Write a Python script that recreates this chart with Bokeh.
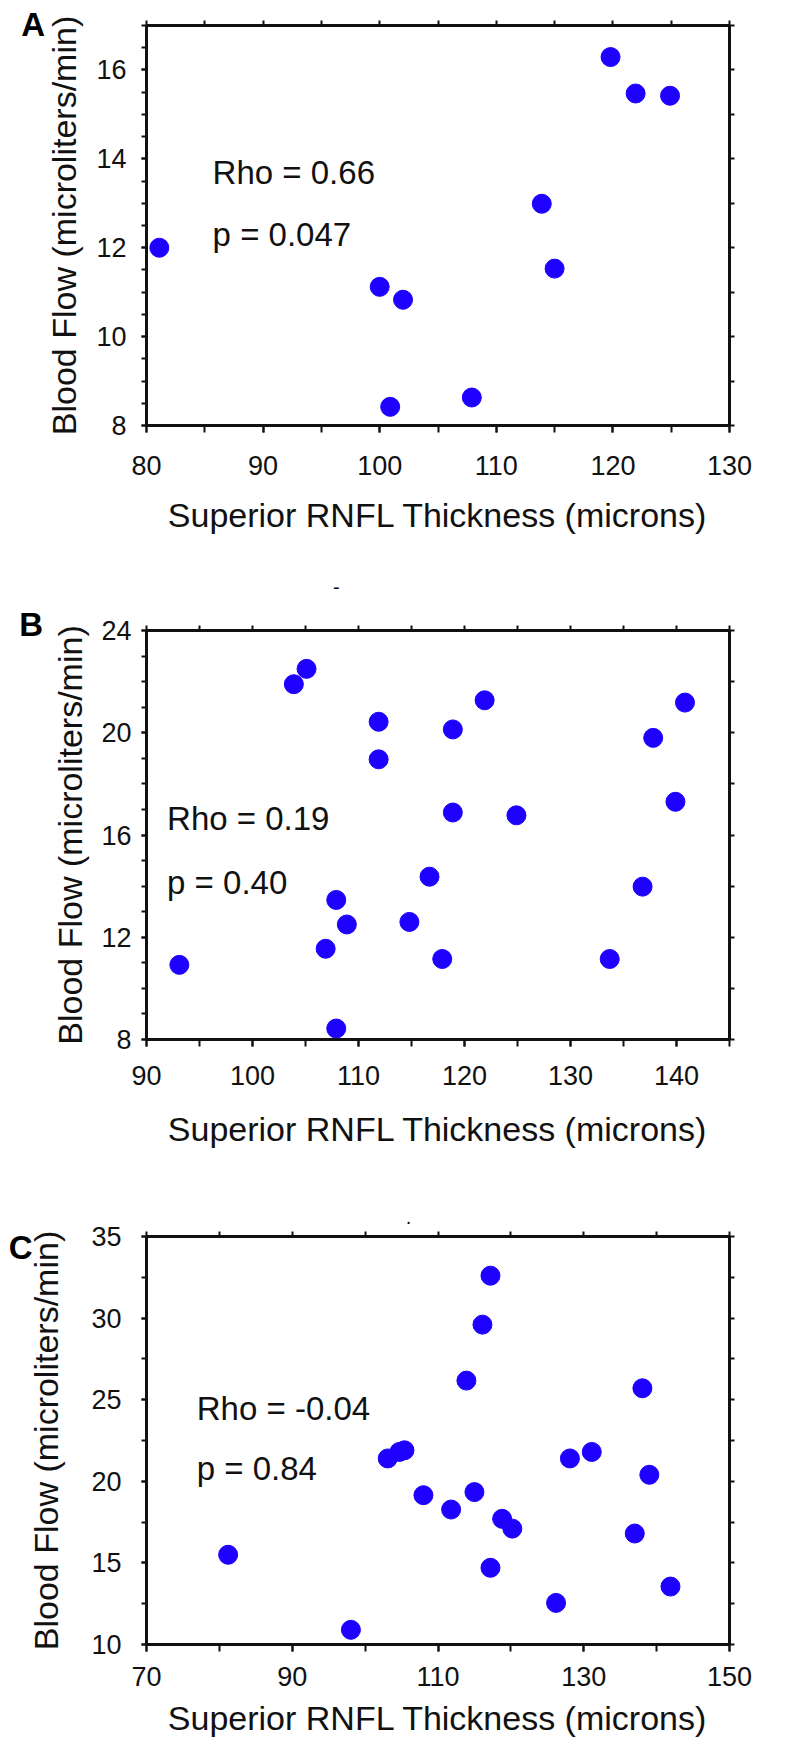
from bokeh.plotting import figure
from bokeh.layouts import column
from bokeh.models import LinearAxis, FixedTicker, Label, Range1d, ColumnDataSource
from bokeh.embed import file_html
from bokeh.resources import INLINE

FONT = "Liberation Sans"
X_TITLE = "Superior RNFL Thickness (microns)"
Y_TITLE = "Blood Flow (microliters/min)"
DOT = "#1E00FF"

# ---------------- data ----------------
a_thickness = [81.1, 100.0, 102.0, 100.9, 107.9, 113.9, 115.0, 119.8, 121.95, 124.9]
a_flow = [12.0, 11.12, 10.83, 8.42, 8.63, 12.99, 11.53, 16.29, 15.47, 15.42]
a_stats = ["Rho = 0.66", "p = 0.047"]

b_thickness = [93.1, 103.9, 105.1, 107.9, 107.9, 106.9, 108.9, 111.9, 111.9, 114.8, 116.7,
               117.9, 118.9, 118.9, 121.9, 124.9, 133.7, 136.8, 137.8, 139.9, 140.8]
b_flow = [10.92, 21.9, 22.5, 8.43, 13.46, 11.55, 12.5, 20.43, 18.96, 12.6, 14.37,
          11.15, 20.13, 16.88, 21.27, 16.77, 11.15, 13.98, 19.8, 17.3, 21.18]
b_stats = ["Rho = 0.19", "p = 0.40"]

c_thickness = [81.2, 98.05, 103.1, 104.7, 105.4, 108.0, 111.8, 113.9, 115.0, 116.1, 117.2,
               117.2, 118.8, 120.2, 126.2, 128.1, 131.1, 137.0, 138.05, 139.0, 141.9]
c_flow = [15.5, 10.9, 21.4, 21.8, 21.9, 19.15, 18.27, 26.17, 19.34, 29.6, 32.6,
          14.7, 17.7, 17.1, 12.55, 21.4, 21.8, 16.8, 25.7, 20.4, 13.55]
c_stats = ["Rho = -0.04", "p = 0.84"]

# tick values (labelled major ticks / unlabelled ticks)
a_xticks = [80, 90, 100, 110, 120, 130]
a_xminor = [80, 85, 90, 95, 100, 105, 110, 115, 120, 125, 130]
a_yticks = [8, 10, 12, 14, 16]
a_yminor = [8 + 0.5 * i for i in range(19)]
a_yright = [8, 9, 10, 11, 12, 13, 14, 15, 16, 17]

b_xticks = [90, 100, 110, 120, 130, 140]
b_xminor = [90, 95, 100, 105, 110, 115, 120, 125, 130, 135, 140, 145]
b_yticks = [8, 12, 16, 20, 24]
b_yminor = list(range(8, 25))
b_yright = [8, 10, 12, 14, 16, 18, 20, 22, 24]

c_xticks = [70, 90, 110, 130, 150]
c_xminor = [70, 80, 90, 100, 110, 120, 130, 140, 150]
c_yticks = [10, 15, 20, 25, 30, 35]
c_yminor = [10, 12.5, 15, 17.5, 20, 22.5, 25, 27.5, 30, 32.5, 35]
c_yright = c_yminor


def style_axis(ax, major, minor, out, standoff=10):
    ax.ticker = FixedTicker(ticks=major, minor_ticks=minor)
    ax.axis_line_width = 3
    ax.axis_line_color = "#111111"
    ax.major_tick_line_width = 2
    ax.minor_tick_line_width = 2
    ax.major_tick_line_color = "#111111"
    ax.minor_tick_line_color = "#111111"
    ax.major_tick_out = out
    ax.major_tick_in = 0
    ax.minor_tick_out = out
    ax.minor_tick_in = 0
    ax.major_label_text_font = FONT
    ax.major_label_text_font_size = "27px"
    ax.major_label_text_color = "#111111"
    ax.major_label_standoff = standoff


def make_panel(xs, ys, xr, yr, xt, xm, yt, ym, yright, stats, stat_pos, letter,
               w, h, mb, lab_st, title_st, letter_px, extra=None):
    left, right, top, bottom = mb
    fw = w - left - right
    fh = h - top - bottom

    # pixel offsets from the frame's top-left corner -> data units
    def px_x(dx):
        return xr[0] + dx * (xr[1] - xr[0]) / fw

    def px_y(dy):
        return yr[1] - dy * (yr[1] - yr[0]) / fh

    p = figure(width=w, height=h, x_range=Range1d(*xr), y_range=Range1d(*yr),
               output_backend="svg", toolbar_location=None, title=None,
               min_border_left=left, min_border_right=right,
               min_border_top=top, min_border_bottom=bottom)
    p.outline_line_color = None
    p.xgrid.visible = False
    p.ygrid.visible = False
    p.background_fill_color = "white"
    p.border_fill_color = "white"

    xa = p.xaxis[0]
    ya = p.yaxis[0]
    style_axis(xa, xt, xm, 7, lab_st[0])
    style_axis(ya, yt, ym, 5, lab_st[1])
    xa.axis_label = X_TITLE
    ya.axis_label = Y_TITLE
    for ax, st in ((xa, title_st[0]), (ya, title_st[1])):
        ax.axis_label_text_font = FONT
        ax.axis_label_text_font_size = "34px"
        ax.axis_label_text_font_style = "normal"
        ax.axis_label_text_color = "#111111"
        ax.axis_label_standoff = st

    # unlabelled tick-only axes on top and right
    top_ax = LinearAxis()
    style_axis(top_ax, [], xm, 5, 0)
    p.add_layout(top_ax, "above")
    right_ax = LinearAxis()
    style_axis(right_ax, [], yright, 5, 0)
    p.add_layout(right_ax, "right")

    src = ColumnDataSource(dict(x=xs, y=ys))
    p.scatter("x", "y", source=src, size=19, fill_color=DOT, line_color=DOT)

    sx, sy1, sy2 = stat_pos
    for txt, yy in zip(stats, (sy1, sy2)):
        p.add_layout(Label(x=sx, y=yy, text=txt, text_font=FONT, text_font_size="33px",
                           text_color="#111111", text_baseline="middle", text_align="left"))

    # panel letter, placed in the side panel so it is not clipped to the frame
    lx, ly = letter_px
    p.add_layout(Label(x=px_x(lx), y=px_y(ly), text=letter, text_font=FONT,
                       text_font_style="bold", text_font_size="33px", text_color="black",
                       text_baseline="alphabetic", text_align="left"), "left")
    if extra is not None:
        ex, ey, et = extra
        p.add_layout(Label(x=px_x(ex), y=px_y(ey), text=et, text_font=FONT,
                           text_font_size="20px", text_color="#111111",
                           text_baseline="middle", text_align="center"), "above")
    return p


pa = make_panel(a_thickness, a_flow, (80, 130), (8, 17), a_xticks, a_xminor, a_yticks, a_yminor,
                a_yright, a_stats, (85.67, 13.70, 12.30), "A",
                772, 567, (129, 43, 25, 142), (23, 15), (18, 10), (-129, -1))
pb = make_panel(b_thickness, b_flow, (90, 145), (8, 24), b_xticks, b_xminor, b_yticks, b_yminor,
                b_yright, b_stats, (91.94, 16.66, 14.14), "B",
                772, 620, (134, 24, 63, 148), (19, 10), (22, 9), (-134, -6), (200, -44, "-"))
pc = make_panel(c_thickness, c_flow, (70, 150), (10, 35), c_xticks, c_xminor, c_yticks, c_yminor,
                c_yright, c_stats, (76.9, 24.49, 20.8), "C",
                772, 558, (145, 13, 49, 101), (15, 20), (10, 23), (-145, 11), (276, -20, "."))

layout = column(pa, pb, pc, spacing=0)
open("out.html", "w").write(file_html(layout, INLINE))
